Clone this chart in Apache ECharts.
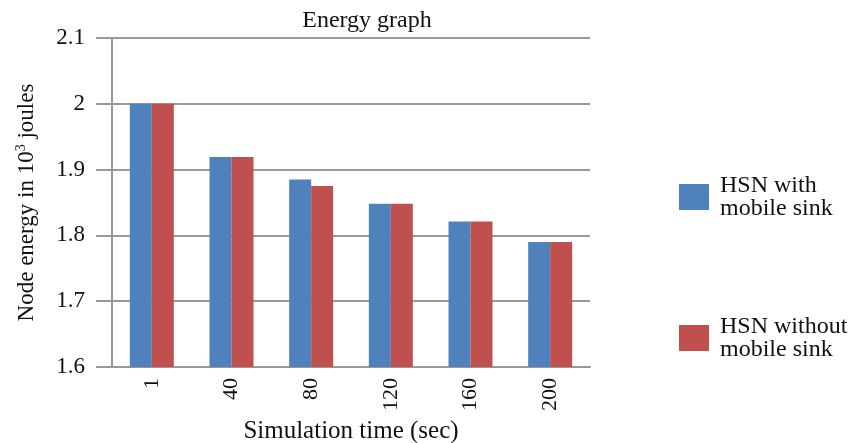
<!DOCTYPE html>
<html>
<head>
<meta charset="utf-8">
<script src="https://cdn.jsdelivr.net/npm/echarts@6/dist/echarts.min.js"></script>
<style>
  html, body { margin: 0; padding: 0; background: #fff; }
  #main { width: 855px; height: 443px; }
</style>
</head>
<body>
<div id="main"></div>
<script>
// 数据
var categories = ['1', '40', '80', '120', '160', '200'];
var withSink = [2.0, 1.919, 1.885, 1.848, 1.821, 1.790];
var withoutSink = [2.0, 1.919, 1.875, 1.848, 1.821, 1.790];
var seriesNames = ['HSN with\nmobile sink', 'HSN without\nmobile sink'];

var font = 'Liberation Serif';
var myChart = echarts.init(document.getElementById('main'));

var option = {
    title: {
        text: 'Energy graph',
        left: 362,
        top: 4,
        textAlign: 'center',
        textStyle: { fontFamily: font, fontSize: 24, fontWeight: 'normal', color: '#111' }
    },
    legend: {
        data: seriesNames,
        orient: 'vertical',
        left: 674,
        top: 163,
        itemWidth: 30,
        itemHeight: 26,
        itemGap: 83,
        icon: 'rect',
        textStyle: { fontFamily: font, fontSize: 24, color: '#111', lineHeight: 23, padding: [12, 0, 0, 6] }
    },
    grid: { left: 112, right: 265, top: 38, bottom: 76, containLabel: false, outerBoundsMode: 'none' },
    xAxis: {
        type: 'category',
        data: categories,
        name: 'Simulation time (sec)',
        nameLocation: 'middle',
        nameGap: 47,
        nameTextStyle: { fontFamily: font, fontSize: 25, color: '#111' },
        axisLine: { lineStyle: { color: '#999', width: 2 } },
        axisTick: { show: false },
        axisLabel: { rotate: 90, fontFamily: font, fontSize: 22, color: '#111', margin: 11 }
    },
    yAxis: {
        type: 'value',
        min: 1.6,
        max: 2.1,
        interval: 0.1,
        name: '{a|Node energy in 10}{s|3}{a| joules}',
        nameLocation: 'middle',
        nameGap: 72,
        nameTextStyle: {
            rich: {
                a: { fontFamily: font, fontSize: 23, color: '#111' },
                s: { fontFamily: font, fontSize: 14, color: '#111', verticalAlign: 'top', padding: [0, 0, 12, 0] }
            }
        },
        axisLine: { show: true, lineStyle: { color: '#999', width: 2 } },
        axisTick: { show: true, length: 16, lineStyle: { color: '#999', width: 2 } },
        splitLine: { lineStyle: { color: '#999', width: 2 } },
        axisLabel: {
            fontFamily: font, fontSize: 23, color: '#111', margin: 27,
            formatter: function (v) { return String(Math.round(v * 10) / 10); }
        }
    },
    series: [
        {
            name: seriesNames[0],
            type: 'bar',
            data: withSink,
            barWidth: 22,
            barGap: '0%',
            itemStyle: { color: '#4F81BD' }
        },
        {
            name: seriesNames[1],
            type: 'bar',
            data: withoutSink,
            barWidth: 22,
            itemStyle: { color: '#C0504D' }
        }
    ]
};

myChart.setOption(option);
</script>
</body>
</html>
